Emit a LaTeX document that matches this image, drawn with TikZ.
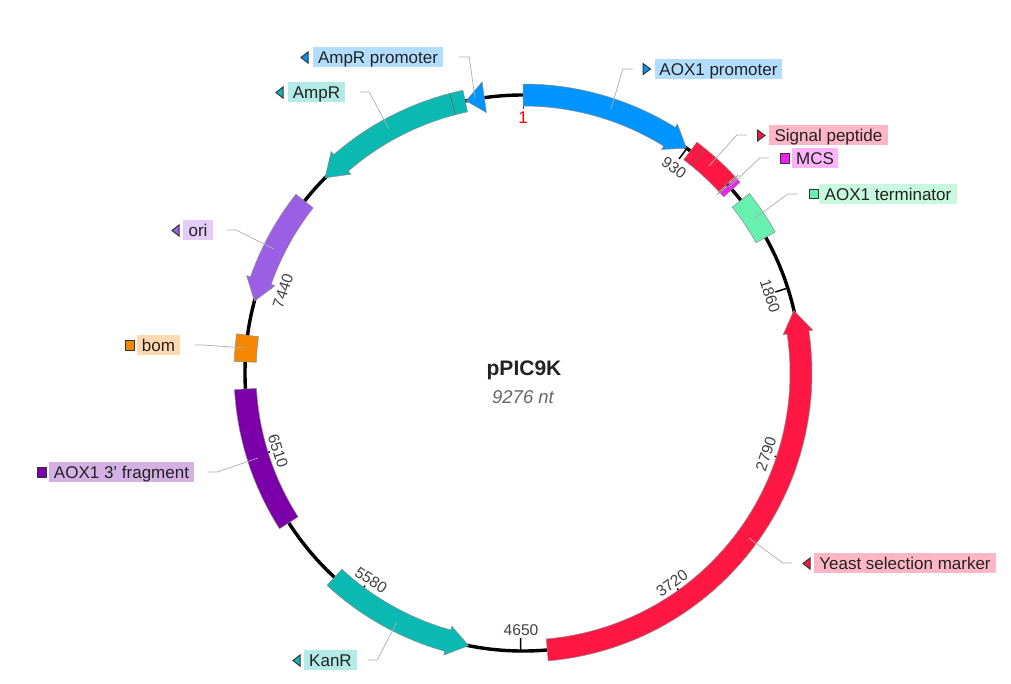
\documentclass[tikz,border=0pt]{standalone}
\usepackage{fontspec}
\setmainfont{Liberation Sans}
\definecolor{fblue}{HTML}{0094FF}
\definecolor{lblue}{HTML}{B3DDFF}
\definecolor{fteal}{HTML}{0ABAB2}
\definecolor{lteal}{HTML}{B2EBE6}
\definecolor{fred}{HTML}{FF1744}
\definecolor{lred}{HTML}{FFB6C6}
\definecolor{fmag}{HTML}{F01EF0}
\definecolor{lmag}{HTML}{FFB3FB}
\definecolor{fgreen}{HTML}{68F0AE}
\definecolor{lgreen}{HTML}{C8F8E0}
\definecolor{forange}{HTML}{F58700}
\definecolor{lorange}{HTML}{FFD9B0}
\definecolor{fpurple}{HTML}{7B00AA}
\definecolor{lpurple}{HTML}{D4B0E4}
\definecolor{fori}{HTML}{9B5FE6}
\definecolor{lori}{HTML}{E3CDF7}
\definecolor{inktext}{HTML}{222222}
% ring position: clockwise angle from top, radius, centre (523,373)
\pgfmathdeclarefunction{ringx}{2}{\pgfmathparse{523+#2*sin(#1)}}
\pgfmathdeclarefunction{ringy}{2}{\pgfmathparse{373-#2*cos(#1)}}
% box feature: colour, from, to
\newcommand{\boxfeat}[3]{\fill[feat,fill=#1] plot[domain=#2:#3,samples=50]({ringx(\x,289)},{ringy(\x,289)}) -- plot[domain=#3:#2,samples=50]({ringx(\x,267)},{ringy(\x,267)}) -- cycle;}
% arrow feature: colour, start, head base, tip
\newcommand{\arrowfeat}[4]{\fill[feat,fill=#1] plot[domain=#2:#3,samples=50]({ringx(\x,289)},{ringy(\x,289)}) -- ({ringx(#3,293)},{ringy(#3,293)}) -- ({ringx(#4,278)},{ringy(#4,278)}) -- ({ringx(#3,263)},{ringy(#3,263)}) -- plot[domain=#3:#2,samples=50]({ringx(\x,267)},{ringy(\x,267)}) -- cycle;}
% radial line: style, angle, r1, r2
\newcommand{\radial}[4]{\draw[#1] ({ringx(#2,#3)},{ringy(#2,#3)}) -- ({ringx(#2,#4)},{ringy(#2,#4)});}
\tikzset{
  feat/.style={draw=black!45,line width=0.5pt,line join=miter},
  jointline/.style={draw=black!60,line width=0.6pt},
  backbone/.style={draw=black,line width=3.4pt},
  tickmark/.style={draw=black,line width=1.5pt},
  redtick/.style={draw=red,line width=1pt},
  leader/.style={draw=black!32,line width=0.7pt},
  lab/.style={inner sep=0pt,minimum height=20pt,text height=12pt,text depth=0pt,text=inktext,font=\fontsize{17}{18}\selectfont,anchor=center},
  poslab/.style={text=inktext!85,font=\fontsize{15.6}{17}\selectfont,inner sep=0pt,anchor=center},
  icon/.style={draw=black!80,line width=1pt,line join=miter}
}
\begin{document}
\begin{tikzpicture}[x=1pt,y=-1pt]
\useasboundingbox (0,0) rectangle (1011,683);
\fill[white] (0,0) rectangle (1011,683);
% backbone
\draw[backbone] (523,373) circle [radius=278];
% ticks
\radial{redtick}{0}{278}{264}
\foreach \a in {36.1,72.2,108.3,144.4,180.5,216.6,252.7,288.7} {\radial{tickmark}{\a}{278}{265}}
% features
\arrowfeat{fblue}{0}{31.8}{36}
\boxfeat{fred}{37}{47.2}
\radial{jointline}{39}{289}{267}
\radial{jointline}{47.4}{292}{264}
\boxfeat{fmag}{47.6}{48.7}
\boxfeat{fgreen}{51.6}{60.8}
\arrowfeat{fred}{175}{81.6}{77}
\arrowfeat{fteal}{222.7}{195.7}{191.3}
\boxfeat{fpurple}{-93.3}{-122.6}
\boxfeat{forange}{-82.2}{-87.7}
\arrowfeat{fori}{-51.8}{-70.6}{-75}
\arrowfeat{fteal}{-12}{-40.9}{-45.4}
\radial{jointline}{-14.7}{289}{267}
\fill[feat,fill=fblue] ({ringx(-8,294)},{ringy(-8,294)}) -- ({ringx(-11.8,278)},{ringy(-11.8,278)}) -- ({ringx(-8,263)},{ringy(-8,263)}) -- cycle;
% labels
\node[lab,fill=lblue,minimum width=130pt] (ampp) at (378,57) {AmpR promoter};
\node[lab,fill=lteal,minimum width=57pt] (ampr) at (316.5,92) {AmpR};
\node[lab,fill=lblue,minimum width=127pt] (aoxp) at (718.5,69) {AOX1 promoter};
\node[lab,fill=lred,minimum width=119pt] (sigp) at (828.5,135) {Signal peptide};
\node[lab,fill=lmag,minimum width=46pt] (mcs) at (815,158) {MCS};
\node[lab,fill=lgreen,minimum width=138pt] (aoxt) at (888,194) {AOX1 terminator};
\node[lab,fill=lred,minimum width=182pt] (yeast) at (905,563) {Yeast selection marker};
\node[lab,fill=lteal,minimum width=53pt] (kanr) at (330.5,660) {KanR};
\node[lab,fill=lorange,minimum width=43pt] (bom) at (158.5,345) {bom};
\node[lab,fill=lpurple,minimum width=145pt] (frag) at (121.5,472) {AOX1 3' fragment};
\node[lab,fill=lori,minimum width=30pt] (ori) at (198,230) {ori};
% leaders
\coordinate (ta) at (475,98);
\coordinate (tb) at (389,129);
\coordinate (tc) at (611,109);
\coordinate (td) at (709,166);
\coordinate (te) at (729,187);
\coordinate (tf) at (755,218);
\coordinate (tg) at (749,538);
\coordinate (th) at (397,622);
\coordinate (ti) at (246,348);
\coordinate (tj) at (258,458);
\coordinate (tk) at (274,249);
\draw[leader] ([xshift=16pt]ampp.east) -- ([xshift=26pt]ampp.east) -- (ta);
\draw[leader] ([xshift=15pt]ampr.east) -- ([xshift=24pt]ampr.east) -- (tb);
\draw[leader] ([xshift=-22pt]aoxp.west) -- ([xshift=-32pt]aoxp.west) -- (tc);
\draw[leader] ([xshift=-22pt]sigp.west) -- ([xshift=-32pt]sigp.west) -- (td);
\draw[leader] ([xshift=-23pt]mcs.west) -- ([xshift=-32pt]mcs.west) -- (te);
\draw[leader] ([xshift=-21pt]aoxt.west) -- ([xshift=-31pt]aoxt.west) -- (tf);
\draw[leader] ([xshift=-22pt]yeast.west) -- ([xshift=-31pt]yeast.west) -- (tg);
\draw[leader] ([xshift=11pt]kanr.east) -- ([xshift=20pt]kanr.east) -- (th);
\draw[leader] ([xshift=15pt]bom.east) -- ([xshift=23pt]bom.east) -- (ti);
\draw[leader] ([xshift=14pt]frag.east) -- ([xshift=23pt]frag.east) -- (tj);
\draw[leader] ([xshift=14pt]ori.east) -- ([xshift=23pt]ori.east) -- (tk);
% icons
\filldraw[icon,fill=fblue] (308,52) -- (301,57.5) -- (308,63) -- cycle;
\filldraw[icon,fill=fteal] (283,87) -- (276,92.5) -- (283,98) -- cycle;
\filldraw[icon,fill=fblue] (643,63.5) -- (650.5,69) -- (643,74.5) -- cycle;
\filldraw[icon,fill=fred] (757.5,130) -- (765,135.5) -- (757.5,141) -- cycle;
\filldraw[icon,fill=fmag] (780.5,153.5) rectangle (789.5,163);
\filldraw[icon,fill=fgreen] (809,189.5) rectangle (818,198.5);
\filldraw[icon,fill=fred] (810,558) -- (803,563.5) -- (810,569) -- cycle;
\filldraw[icon,fill=fteal] (300,655) -- (293,660.5) -- (300,666) -- cycle;
\filldraw[icon,fill=forange] (125,340) rectangle (134,350);
\filldraw[icon,fill=fpurple] (37.5,467) rectangle (46.5,477);
\filldraw[icon,fill=fori] (179,225) -- (172,230.5) -- (179,236) -- cycle;
% tick labels
\node[poslab,text=red,font=\fontsize{17}{18}\selectfont] (p1) at (523,118) {1};
\node[poslab,rotate=-36] (p930) at (674,168) {930};
\node[poslab,rotate=-72] (p1860) at (770,296) {1860};
\node[poslab,rotate=71] (p2790) at (766,454) {2790};
\node[poslab,rotate=36] (p3720) at (672,583) {3720};
\node[poslab] (p4650) at (521,630) {4650};
\node[poslab,rotate=-33] (p5580) at (371,580) {5580};
\node[poslab,rotate=-72] (p6510) at (278,451) {6510};
\node[poslab,rotate=71] (p7440) at (283,291) {7440};
% centre
\node[inner sep=0pt,text=inktext,font=\fontsize{21}{22}\selectfont\bfseries] (name) at (524,370.5) {pPIC9K};
\node[inner sep=0pt,text=black!60,font=\fontsize{18.5}{20}\selectfont\itshape] (size) at (523,397) {9276 nt};
\end{tikzpicture}
\end{document}
